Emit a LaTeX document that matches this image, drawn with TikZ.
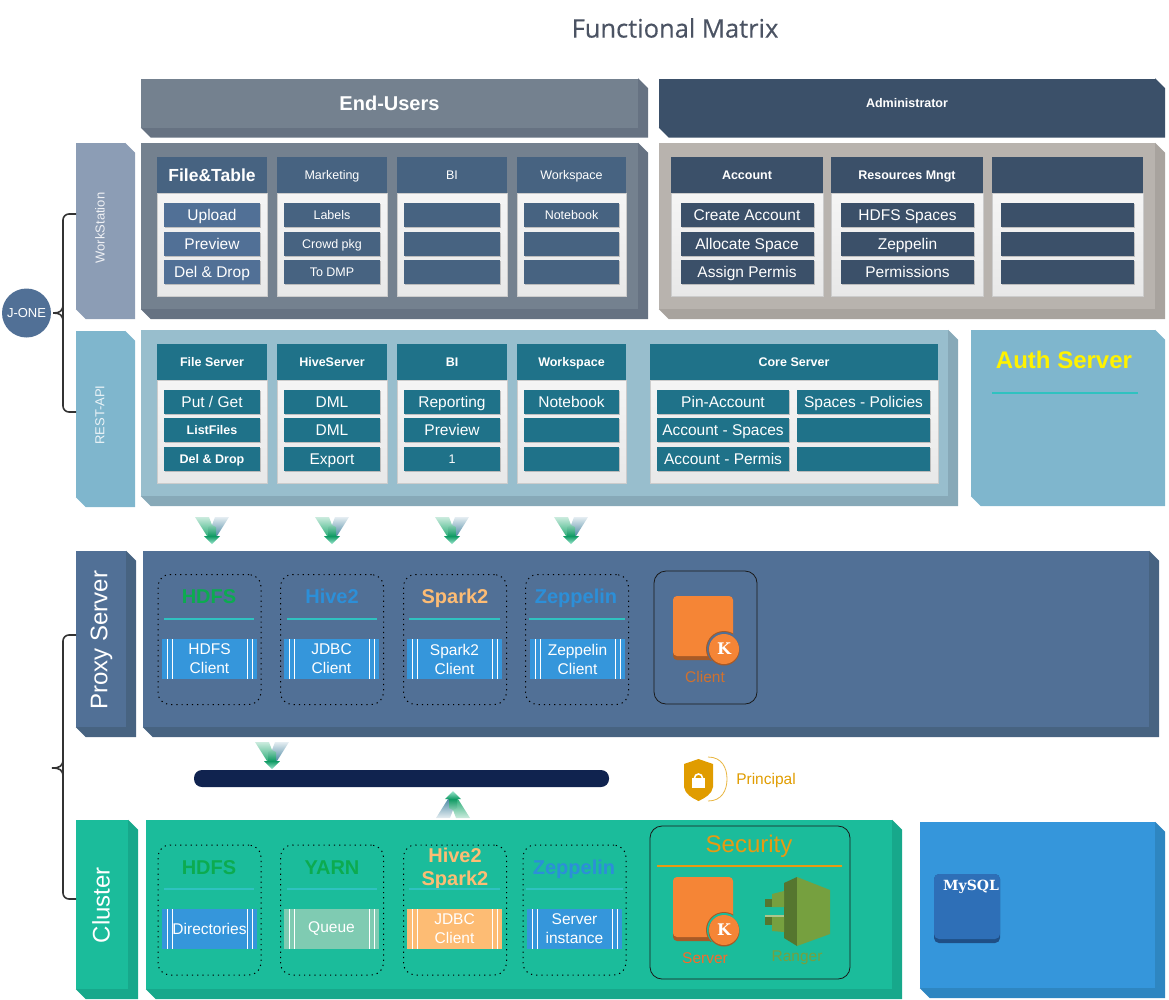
\documentclass[tikz,border=0pt]{standalone}
\usepackage{fontspec}
\setmainfont{Liberation Sans}
\newfontfamily\titlefont[FakeBold=0.35]{Open Sans}
\newfontfamily\slabfont{DejaVu Serif}
\usetikzlibrary{
    shadows
}
\definecolor{userface}{HTML}{74818F}
\definecolor{userside}{HTML}{667282}
\definecolor{adminblue}{HTML}{3B5069}
\definecolor{adminface}{HTML}{B8B3AE}
\definecolor{adminside}{HTML}{A8A39E}
\definecolor{wstab}{HTML}{8C9DB5}
\definecolor{wshead}{HTML}{476381}
\definecolor{wsitem}{HTML}{517096}
\definecolor{restface}{HTML}{98BECD}
\definecolor{restside}{HTML}{87A9B8}
\definecolor{resttab}{HTML}{7FB6CD}
\definecolor{resthead}{HTML}{1F7289}
\definecolor{proxyface}{HTML}{517096}
\definecolor{proxyside}{HTML}{476381}
\definecolor{clusterface}{HTML}{1BBC9B}
\definecolor{clusterside}{HTML}{17A88B}
\definecolor{skyblue}{HTML}{3596DB}
\definecolor{skyside}{HTML}{2E86C1}
\definecolor{tealrule}{HTML}{2FC2C0}
\definecolor{hdfsgreen}{HTML}{0CAB50}
\definecolor{hiveblue}{HTML}{2C8FD8}
\definecolor{sparkorange}{HTML}{FDBC74}
\definecolor{queuegreen}{HTML}{7FCBB2}
\definecolor{barnavy}{HTML}{10234F}
\definecolor{krborange}{HTML}{F58536}
\definecolor{krbdark}{HTML}{A85A26}
\definecolor{goldtone}{HTML}{E09C00}
\definecolor{secgold}{HTML}{E79A12}
\definecolor{rangerlight}{HTML}{76A03F}
\definecolor{rangerdark}{HTML}{55762F}
\definecolor{titleink}{HTML}{4B5363}
\definecolor{flowgreen}{HTML}{2FAF7A}
\definecolor{flowblue}{HTML}{4F8AA5}
\definecolor{flowstem}{HTML}{0F9A63}
\definecolor{flowmint}{HTML}{9BE6CE}
\definecolor{mysqlface}{HTML}{2E6FB7}
\definecolor{mysqlside}{HTML}{1F4F86}
\tikzset{
    slab/.style 2 args={
        fill=#1,
        inner sep=0pt,
        text=white,
        append after command={\pgfextra{
            \fill[#2] (\tikzlastnode.north east) -- ++(10,10)
                -- ([shift={(10,10)}]\tikzlastnode.south east)
                -- ([shift={(10,10)}]\tikzlastnode.south west)
                -- (\tikzlastnode.south west)
                -- (\tikzlastnode.south east) -- cycle;
        }}
    },
    body/.style={
        inner sep=0pt,
        text=white,
        text height=14pt,
        text depth=3pt,
        font=\fontsize{15.5}{18}\selectfont
    },
    header/.style={
        body,
        minimum height=36,
        text height=11pt,
        text depth=2pt,
        font=\fontsize{12.5}{15}\selectfont
    },
    boldhead/.style={
        header,
        font=\bfseries\fontsize{12.5}{15}\selectfont
    },
    card/.style={
        shade,
        top color=white!96!black,
        bottom color=white!91!black,
        draw=white!80!black,
        minimum height=103
    },
    entry/.style={
        body,
        minimum height=24,
        drop shadow={shadow xshift=1pt,shadow yshift=-1pt,opacity=0.2,fill=black}
    },
    smallentry/.style={
        entry,
        text height=11pt,
        text depth=2pt,
        font=\fontsize{12.5}{15}\selectfont
    },
    boldentry/.style={
        smallentry,
        font=\bfseries\fontsize{12.5}{15}\selectfont
    },
    tabtext/.style={
        rotate=90,
        inner sep=0pt,
        text=white,
        font=\fontsize{24}{26}\selectfont
    },
    dotgroup/.style={
        draw=black,
        line width=1pt,
        dash pattern=on 1.2pt off 4pt,
        rounded corners=12,
        minimum width=103,
        minimum height=130,
        inner sep=0pt
    },
    grouptitle/.style={
        inner sep=0pt,
        align=center,
        font=\bfseries\fontsize{20}{23}\selectfont
    },
    rulebar/.style={
        fill=tealrule,
        inner sep=0pt,
        minimum height=2
    },
    strip/.style={
        fill=#1,
        inner sep=0pt,
        minimum width=95,
        minimum height=40,
        text=white,
        align=center,
        font=\fontsize{15.5}{19}\selectfont,
        path picture={
            \draw[white,line width=1pt]
                ([xshift=5]path picture bounding box.north west) -- ([xshift=5]path picture bounding box.south west)
                ([xshift=10]path picture bounding box.north west) -- ([xshift=10]path picture bounding box.south west)
                ([xshift=-5]path picture bounding box.north east) -- ([xshift=-5]path picture bounding box.south east)
                ([xshift=-10]path picture bounding box.north east) -- ([xshift=-10]path picture bounding box.south east);
        }
    },
    solidbox/.style={
        draw=black!90,
        line width=0.8pt,
        rounded corners=12,
        inner sep=0pt
    },
    iconlabel/.style={
        inner sep=0pt,
        font=\fontsize{15.5}{18}\selectfont
    },
    bracket/.style={
        draw=black!80,
        line width=1.6pt
    },
    pics/flowdown/.style={
        code={
            \shade[top color=flowgreen!25!white, bottom color=flowgreen]
                (-17,0) -- (-3,0) -- (0,8) -- (0,19) -- (-5,19) -- cycle;
            \shade[top color=flowblue!15!white, bottom color=flowblue]
                (17,0) -- (3,0) -- (0,8) -- (0,19) -- (5,19) -- cycle;
            \shade[top color=flowstem!50!white, bottom color=flowstem] (-4,10) -- (0,8) -- (4,10) -- (4,19) -- (-4,19) -- cycle;
            \shade[top color=flowstem, bottom color=flowmint]
                (-8,19) -- (8,19) -- (0,27) -- cycle;
        }
    },
    pics/flowup/.style={
        code={
            \shade[bottom color=flowgreen!25!white, top color=flowgreen]
                (17,0) -- (3,0) -- (0,-8) -- (0,-19) -- (5,-19) -- cycle;
            \shade[bottom color=flowblue!15!white, top color=flowblue]
                (-17,0) -- (-3,0) -- (0,-8) -- (0,-19) -- (-5,-19) -- cycle;
            \shade[bottom color=flowstem!50!white, top color=flowstem] (-4,-10) -- (0,-8) -- (4,-10) -- (4,-19) -- (-4,-19) -- cycle;
            \shade[bottom color=flowstem, top color=flowmint]
                (-8,-19) -- (8,-19) -- (0,-27) -- cycle;
        }
    },
    pics/krbicon/.style={
        code={
            \fill[krbdark, rounded corners=4] (0,30) rectangle (60,64);
            \fill[krborange, rounded corners=4] (0,0) rectangle (60,60);
            \begin{scope}
                \clip (0,0) rectangle (60,64);
                \fill[krbdark] (51,53) circle (18);
            \end{scope}
            \fill[#1] (51,53) circle (17);
            \fill[krbdark] (51,54) circle (15.5);
            \fill[krborange] (51,53) circle (15);
            \node[inner sep=0pt, text=white, font=\slabfont\bfseries\fontsize{16}{18}\selectfont] at (51,53) {K};
        }
    }
}

\begin{document}
\begin{tikzpicture}[
    x=1pt,
    y=-1pt
]
    \useasboundingbox (0,0) rectangle (1169,999);

    % Title
    \node[inner sep=0pt, text=titleink, font=\titlefont\fontsize{25.5}{28}\selectfont] (title) at (675,28) {Functional Matrix};

    % Top bars
    \node[slab={userface}{userside}, minimum width=497, minimum height=49, font=\bfseries\fontsize{20}{24}\selectfont] (endusers) at (389.5,103) {End-Users};
    \node[slab={adminblue}{adminblue}, minimum width=496, minimum height=49, font=\bfseries\fontsize{12.5}{15}\selectfont] (administrator) at (907,103) {Administrator};

    % Side tabs
    \node[slab={wstab}{wstab}, minimum width=49, minimum height=166] (wstabbox) at (100.5,226) {};
    \node[tabtext, font=\fontsize{13}{15}\selectfont, text=white!85!wstab] (wstablabel) at (100,228) {WorkStation};
    \node[slab={resttab}{resttab}, minimum width=49, minimum height=166] (resttabbox) at (100.5,414) {};
    \node[tabtext, font=\fontsize{13}{15}\selectfont, text=white!85!resttab] (resttablabel) at (100,415) {REST-API};
    \node[slab={proxyface}{proxyside}, minimum width=50, minimum height=176] (proxytabbox) at (101,639) {};
    \node[tabtext] (proxytablabel) at (101.5,640) {Proxy Server};
    \node[slab={clusterface}{clusterside}, minimum width=52, minimum height=169] (clustertabbox) at (102,904.5) {};
    \node[tabtext] (clustertablabel) at (101,905) {Cluster};

    % WorkStation panel
    \node[slab={userface}{userside}, minimum width=497, minimum height=166] (wspanel) at (389.5,226) {};

    \node[card, minimum width=110] (filecard) at (212,244.5) {};
    \node[boldhead, fill=wshead, minimum width=110, text height=15pt, text depth=2.5pt, font=\bfseries\fontsize{17.5}{20}\selectfont] (filehead) at (212,175) {File\&Table};
    \node[entry, fill=wsitem, minimum width=96] (upload) at (212,215) {Upload};
    \node[entry, fill=wsitem, minimum width=96] (preview) at (212,244) {Preview};
    \node[entry, fill=wsitem, minimum width=96] (deldrop) at (212,272) {Del \& Drop};

    \node[card, minimum width=110] (marketcard) at (332,244.5) {};
    \node[header, fill=wshead, minimum width=110] (markethead) at (332,175) {Marketing};
    \node[smallentry, fill=wshead, minimum width=96] (labels) at (332,215) {Labels};
    \node[smallentry, fill=wshead, minimum width=96] (crowd) at (332,244) {Crowd pkg};
    \node[smallentry, fill=wshead, minimum width=96] (todmp) at (332,272) {To DMP};

    \node[card, minimum width=110] (bicard) at (452,244.5) {};
    \node[header, fill=wshead, minimum width=110] (bihead) at (452,175) {BI};
    \node[smallentry, fill=wshead, minimum width=96] (bione) at (452,215) {};
    \node[smallentry, fill=wshead, minimum width=96] (bitwo) at (452,244) {};
    \node[smallentry, fill=wshead, minimum width=96] (bithree) at (452,272) {};

    \node[card, minimum width=109] (workcard) at (571.5,244.5) {};
    \node[header, fill=wshead, minimum width=109] (workhead) at (571.5,175) {Workspace};
    \node[smallentry, fill=wshead, minimum width=95] (notebook) at (571.5,215) {Notebook};
    \node[smallentry, fill=wshead, minimum width=95] (worktwo) at (571.5,244) {};
    \node[smallentry, fill=wshead, minimum width=95] (workthree) at (571.5,272) {};

    % Administrator panel
    \node[slab={adminface}{adminside}, minimum width=496, minimum height=166] (adminpanel) at (907,226) {};

    \node[card, minimum width=152] (accountcard) at (747,244.5) {};
    \node[boldhead, fill=adminblue, minimum width=152] (accounthead) at (747,175) {Account};
    \node[entry, fill=adminblue, minimum width=133] (createacc) at (747,215) {Create Account};
    \node[entry, fill=adminblue, minimum width=133] (allocate) at (747,244) {Allocate Space};
    \node[entry, fill=adminblue, minimum width=133] (assign) at (747,272) {Assign Permis};

    \node[card, minimum width=152] (resourcecard) at (907,244.5) {};
    \node[boldhead, fill=adminblue, minimum width=152] (resourcehead) at (907,175) {Resources Mngt};
    \node[entry, fill=adminblue, minimum width=133] (hdfsspaces) at (907.5,215) {HDFS Spaces};
    \node[entry, fill=adminblue, minimum width=133] (zepadmin) at (907.5,244) {Zeppelin};
    \node[entry, fill=adminblue, minimum width=133] (permissions) at (907.5,272) {Permissions};

    \node[card, minimum width=151] (sparecard) at (1067.5,244.5) {};
    \node[boldhead, fill=adminblue, minimum width=151] (sparehead) at (1067.5,175) {};
    \node[entry, fill=adminblue, minimum width=133] (spareone) at (1067.5,215) {};
    \node[entry, fill=adminblue, minimum width=133] (sparetwo) at (1067.5,244) {};
    \node[entry, fill=adminblue, minimum width=133] (sparethree) at (1067.5,272) {};

    % REST panel
    \node[slab={restface}{restside}, minimum width=807, minimum height=166] (restpanel) at (544.5,413) {};

    \node[card, minimum width=110] (fscard) at (212,431.5) {};
    \node[boldhead, fill=resthead, minimum width=110] (fshead) at (212,362) {File Server};
    \node[entry, fill=resthead, minimum width=96] (putget) at (212,402) {Put / Get};
    \node[boldentry, fill=resthead, minimum width=96] (listfiles) at (212,430) {ListFiles};
    \node[boldentry, fill=resthead, minimum width=96] (fsdel) at (212,459) {Del \& Drop};

    \node[card, minimum width=110] (hivecard) at (332,431.5) {};
    \node[boldhead, fill=resthead, minimum width=110] (hivehead) at (332,362) {HiveServer};
    \node[entry, fill=resthead, minimum width=96] (dmlone) at (332,402) {DML};
    \node[entry, fill=resthead, minimum width=96] (dmltwo) at (332,430) {DML};
    \node[entry, fill=resthead, minimum width=96] (export) at (332,459) {Export};

    \node[card, minimum width=110] (rbicard) at (452,431.5) {};
    \node[boldhead, fill=resthead, minimum width=110] (rbihead) at (452,362) {BI};
    \node[entry, fill=resthead, minimum width=96] (reporting) at (452,402) {Reporting};
    \node[entry, fill=resthead, minimum width=96] (rbipreview) at (452,430) {Preview};
    \node[smallentry, fill=resthead, minimum width=96] (rbinum) at (452,459) {1};

    \node[card, minimum width=109] (rworkcard) at (571.5,431.5) {};
    \node[boldhead, fill=resthead, minimum width=109] (rworkhead) at (571.5,362) {Workspace};
    \node[entry, fill=resthead, minimum width=95] (rnotebook) at (571.5,402) {Notebook};
    \node[entry, fill=resthead, minimum width=95] (rworktwo) at (571.5,430) {};
    \node[entry, fill=resthead, minimum width=95] (rworkthree) at (571.5,459) {};

    \node[card, minimum width=288] (corecard) at (794,431.5) {};
    \node[boldhead, fill=resthead, minimum width=288] (corehead) at (794,362) {Core Server};
    \node[entry, fill=resthead, minimum width=132] (pinacc) at (723,402) {Pin-Account};
    \node[entry, fill=resthead, minimum width=132] (accspaces) at (723,430) {Account - Spaces};
    \node[entry, fill=resthead, minimum width=132] (accpermis) at (723,459) {Account - Permis};
    \node[entry, fill=resthead, minimum width=133] (spacespol) at (863.5,402) {Spaces - Policies};
    \node[entry, fill=resthead, minimum width=133] (coretwo) at (863.5,430) {};
    \node[entry, fill=resthead, minimum width=133] (corethree) at (863.5,459) {};

    % Auth server
    \node[slab={resttab}{resttab}, minimum width=184, minimum height=166] (authpanel) at (1063,413) {};
    \node[inner sep=0pt, text=yellow, font=\bfseries\fontsize{24}{28}\selectfont] (authtitle) at (1064,360) {Auth Server};
    \node[rulebar, minimum width=146] (authrule) at (1065,393) {};

    % Down arrows
    \pic (flowa) at (212,517) {flowdown};
    \pic (flowb) at (332,517) {flowdown};
    \pic (flowc) at (452,517) {flowdown};
    \pic (flowd) at (571,517) {flowdown};

    % Proxy panel
    \node[slab={proxyface}{proxyside}, minimum width=1006, minimum height=176] (proxypanel) at (646,639) {};

    \node[dotgroup] (phdfs) at (209.5,639.5) {};
    \node[grouptitle, anchor=base, text=hdfsgreen] (phdfstitle) at (209,603) {HDFS};
    \node[rulebar, minimum width=90] (phdfsrule) at (209,619) {};
    \node[strip=skyblue] (phdfsclient) at (209.5,659) {HDFS\\Client};

    \node[dotgroup] (phive) at (332,639.5) {};
    \node[grouptitle, anchor=base, text=hiveblue] (phivetitle) at (332,603) {Hive2};
    \node[rulebar, minimum width=90] (phiverule) at (332,619) {};
    \node[strip=skyblue] (phiveclient) at (331.5,659) {JDBC\\Client};

    \node[dotgroup] (pspark) at (455,639.5) {};
    \node[grouptitle, anchor=base, text=sparkorange] (psparktitle) at (455,603) {Spark2};
    \node[rulebar, minimum width=91] (psparkrule) at (454.5,619) {};
    \node[strip=skyblue] (psparkclient) at (454.5,659) {Spark2\\Client};

    \node[dotgroup] (pzep) at (577,639.5) {};
    \node[grouptitle, anchor=base, text=hiveblue] (pzeptitle) at (576,603) {Zeppelin};
    \node[rulebar, minimum width=96] (pzeprule) at (577,619) {};
    \node[strip=skyblue] (pzepclient) at (577.5,659) {Zeppelin\\Client};

    \node[solidbox, minimum width=103, minimum height=133] (clientbox) at (705.5,637.5) {};
    \pic (clienticon) at (673,596) {krbicon=proxyface};
    \node[iconlabel, text=krborange!85!black] (clientlabel) at (705,677) {Client};

    % Bus
    \pic (flowe) at (272,742) {flowdown};
    \node[fill=barnavy, rounded corners=8, minimum width=415, minimum height=17, inner sep=0pt] (bus) at (401.5,778.5) {};
    \pic (flowf) at (453,818) {flowup};

    % Principal
    \fill[goldtone] (698.5,759) -- (713,764) -- (713,787) .. controls (712,794) and (705,798) .. (698.5,801)
        .. controls (692,798) and (685,794) .. (684,787) -- (684,764) -- cycle;
    \fill[white] (692,778) rectangle (705,788);
    \draw[white, line width=1.6pt] (694.5,778) arc (180:360:4);
    \draw[goldtone!75!white, line width=0.8pt] (708,757) .. controls (722,757) and (727,768) .. (727,779)
        .. controls (727,790) and (722,801) .. (708,801);
    \node[iconlabel, text=goldtone] (principal) at (766,780) {Principal};

    % Cluster panel
    \node[slab={clusterface}{clusterside}, minimum width=746, minimum height=169] (clusterpanel) at (519,904.5) {};

    \node[dotgroup] (chdfs) at (209.5,910) {};
    \node[grouptitle, anchor=base, text=hdfsgreen] (chdfstitle) at (209,874) {HDFS};
    \node[rulebar, minimum width=90] (chdfsrule) at (209,889) {};
    \node[strip=skyblue] (directories) at (209.5,929) {Directories};

    \node[dotgroup] (cyarn) at (332,910) {};
    \node[grouptitle, anchor=base, text=hdfsgreen] (cyarntitle) at (332,874) {YARN};
    \node[rulebar, minimum width=90] (cyarnrule) at (332,889) {};
    \node[strip=queuegreen] (queue) at (331.5,929) {Queue};

    \node[dotgroup] (cspark) at (455,910) {};
    \node[grouptitle, text=sparkorange] (csparktitle) at (455,869) {Hive2\\Spark2};
    \node[rulebar, minimum width=91] (csparkrule) at (454.5,889) {};
    \node[strip=sparkorange] (cjdbc) at (454.5,929) {JDBC\\Client};

    \node[dotgroup] (czep) at (574.5,910) {};
    \node[grouptitle, anchor=base, text=hiveblue] (czeptitle) at (574,874) {Zeppelin};
    \node[rulebar, minimum width=97] (czeprule) at (574.5,889) {};
    \node[strip=skyblue] (serverinst) at (574.5,929) {Server\\instance};

    \node[solidbox, minimum width=200, minimum height=153] (secbox) at (750,902.5) {};
    \node[inner sep=0pt, text=secgold, font=\fontsize{24}{28}\selectfont] (sectitle) at (749,846) {Security};
    \node[rulebar, fill=secgold, minimum width=185] (secrule) at (749.5,866) {};
    \pic (servericon) at (673,877) {krbicon=clusterface};
    \node[iconlabel, text=krborange!80!red] (serverlabel) at (705,958) {Server};

    % Ranger icon
    \fill[rangerdark] (784,883) -- (797,877) -- (797,946) -- (784,938) -- cycle;
    \fill[rangerlight] (797,877) -- (830,890) -- (830,934) -- (797,946) -- cycle;
    \fill[rangerlight] (772,894) -- (784,891) -- (784,907) -- (772,907) -- cycle;
    \fill[rangerdark] (765,899) -- (772,899) -- (772,907) -- (765,907) -- cycle;
    \fill[rangerlight!60!white] (765,915) -- (784,915) -- (784,917) -- (765,917) -- cycle;
    \fill[rangerdark] (765,917) -- (772,917) -- (772,925) -- (765,925) -- cycle;
    \fill[rangerlight] (772,917) -- (784,917) -- (784,932) -- (772,931) -- cycle;
    \node[iconlabel, text=rangerlight] (rangerlabel) at (797,958) {Ranger};

    % MySQL panel
    \node[slab={skyblue}{skyside}, minimum width=235, minimum height=166] (mysqlpanel) at (1037.5,905) {};
    \node[fill=mysqlside, rounded corners=5, minimum width=66, minimum height=69, inner sep=0pt] (mysqlshade) at (967,908.5) {};
    \node[fill=mysqlface, rounded corners=5, minimum width=66, minimum height=65, inner sep=0pt] (mysqlicon) at (967,906.5) {};
    \node[inner sep=0pt, text=white, font=\slabfont\bfseries\fontsize{14}{16}\selectfont] (mysqllabel) at (971,887) {MySQL};

    % J-ONE and brackets
    \node[circle, fill=proxyface, minimum size=49, inner sep=0pt, text=white, font=\fontsize{13}{15}\selectfont] (jone) at (26.5,313) {J-ONE};
    \coordinate (wsend) at (76,214);
    \coordinate (restend) at (76,412);
    \coordinate (proxyend) at (76,635);
    \coordinate (clusterend) at (76,899);
    \coordinate (lowtip) at (52,768);
    \draw[bracket, rounded corners=6] (wsend) -- (63,214) -- (63,412) -- (restend);
    \draw[bracket, shorten <=2pt] (jone.east) .. controls (60,313) and (63,311) .. (63,304);
    \draw[bracket, shorten <=2pt] (jone.east) .. controls (60,313) and (63,315) .. (63,322);
    \draw[bracket, rounded corners=6] (proxyend) -- (63,635) -- (63,899) -- (clusterend);
    \draw[bracket] (lowtip) .. controls (60,768) and (63,766) .. (63,759);
    \draw[bracket] (lowtip) .. controls (60,768) and (63,770) .. (63,777);

\end{tikzpicture}
\end{document}
